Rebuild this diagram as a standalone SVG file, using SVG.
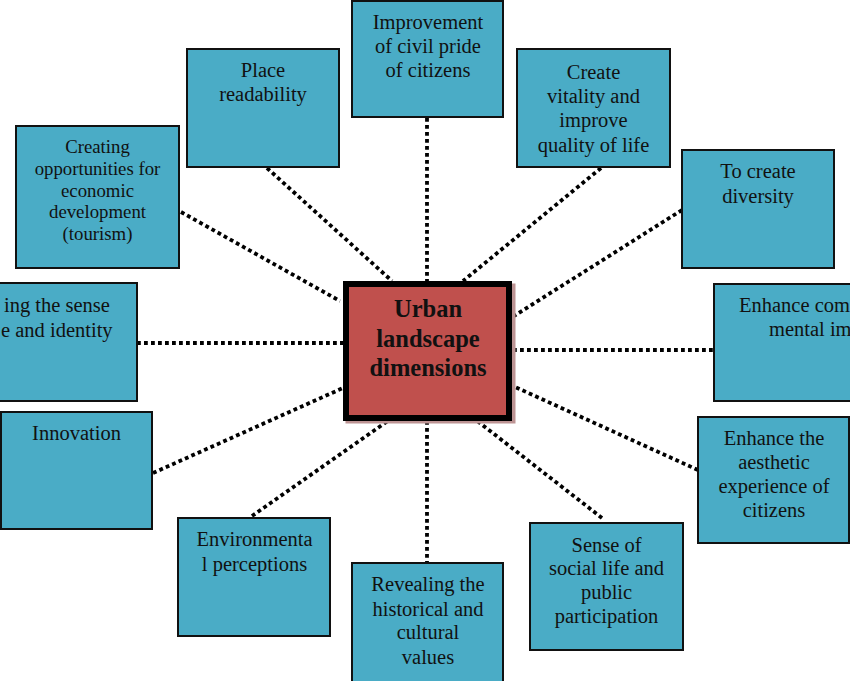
<svg xmlns="http://www.w3.org/2000/svg" width="850" height="681" viewBox="0 0 850 681">
<style>
.box{fill:#4aacc6;stroke:#111;stroke-width:2}
.t{font-family:"Liberation Serif","Times New Roman",serif;font-size:20.5px;fill:#111;text-anchor:middle}
.s{font-size:18.8px}
.c{font-family:"Liberation Serif","Times New Roman",serif;font-size:24.5px;font-weight:bold;fill:#111;text-anchor:middle}
.ln{stroke:#000;stroke-width:3.8;stroke-dasharray:3.8 3.2;fill:none}
</style>
<rect width="850" height="681" fill="#fff"/>
<g id="connectors">
<line class="ln" x1="427" y1="118" x2="427" y2="281"/>
<line class="ln" x1="267" y1="168" x2="392" y2="281"/>
<line class="ln" x1="181" y1="212" x2="340" y2="301"/>
<line class="ln" x1="601" y1="168" x2="463" y2="281"/>
<line class="ln" x1="682" y1="210" x2="514" y2="316"/>
<line class="ln" x1="137" y1="343" x2="343" y2="343"/>
<line class="ln" x1="513" y1="350" x2="714" y2="350"/>
<line class="ln" x1="153" y1="473" x2="343" y2="388"/>
<line class="ln" x1="698" y1="470" x2="513" y2="386"/>
<line class="ln" x1="252" y1="516" x2="392" y2="418"/>
<line class="ln" x1="427" y1="421" x2="427" y2="563"/>
<line class="ln" x1="602" y1="518" x2="476" y2="420"/>
</g>
<g id="center">
<rect x="345.5" y="283.5" width="170" height="140" fill="#bd9494"/>
<rect x="346" y="284" width="163" height="134" fill="#c0504d" stroke="#000" stroke-width="6"/>
<text class="c" x="428" y="317">Urban</text>
<text class="c" x="428" y="347">landscape</text>
<text class="c" x="428" y="376">dimensions</text>
</g>
<g id="n-civil-pride">
<rect class="box" x="352" y="1" width="151" height="116"/>
<text class="t" x="428" y="29">Improvement</text>
<text class="t" x="428" y="53">of civil pride</text>
<text class="t" x="428" y="77">of citizens</text>
</g>
<g id="n-place-readability">
<rect class="box" x="187" y="49" width="152" height="118"/>
<text class="t" x="263" y="77">Place</text>
<text class="t" x="263" y="101">readability</text>
</g>
<g id="n-economic">
<rect class="box" x="16" y="126" width="163" height="142"/>
<text class="t s" x="97.5" y="153">Creating</text>
<text class="t s" x="97.5" y="175">opportunities for</text>
<text class="t s" x="97.5" y="197">economic</text>
<text class="t s" x="97.5" y="218">development</text>
<text class="t s" x="97.5" y="240">(tourism)</text>
</g>
<g id="n-vitality">
<rect class="box" x="517" y="49" width="153" height="118"/>
<text class="t" x="593.5" y="79">Create</text>
<text class="t" x="593.5" y="103">vitality and</text>
<text class="t" x="593.5" y="127">improve</text>
<text class="t" x="593.5" y="152">quality of life</text>
</g>
<g id="n-diversity">
<rect class="box" x="682" y="150" width="152" height="118"/>
<text class="t" x="758" y="178">To create</text>
<text class="t" x="758" y="203">diversity</text>
</g>
<g id="n-sense-place">
<rect class="box" x="-20" y="283" width="157" height="118"/>
<text class="t" x="4" y="312" style="text-anchor:start">ing the sense</text>
<text class="t" x="1" y="337" style="text-anchor:start">e and identity</text>
</g>
<g id="n-mental-image">
<rect class="box" x="714" y="284" width="160" height="117"/>
<text class="t" x="739" y="312" style="text-anchor:start">Enhance com</text>
<text class="t" x="769" y="336" style="text-anchor:start">mental im</text>
</g>
<g id="n-innovation">
<rect class="box" x="1" y="412" width="151" height="117"/>
<text class="t" x="76.5" y="440">Innovation</text>
</g>
<g id="n-aesthetic">
<rect class="box" x="698" y="417" width="151" height="126"/>
<text class="t" x="774" y="445">Enhance the</text>
<text class="t" x="774" y="469">aesthetic</text>
<text class="t" x="774" y="493">experience of</text>
<text class="t" x="774" y="517">citizens</text>
</g>
<g id="n-environmental">
<rect class="box" x="178" y="518" width="152" height="118"/>
<text class="t" x="254.5" y="546">Environmenta</text>
<text class="t" x="254.5" y="571">l perceptions</text>
</g>
<g id="n-historical">
<rect class="box" x="352" y="563" width="151" height="125"/>
<text class="t" x="428" y="591">Revealing the</text>
<text class="t" x="428" y="616">historical and</text>
<text class="t" x="428" y="639">cultural</text>
<text class="t" x="428" y="664">values</text>
</g>
<g id="n-social">
<rect class="box" x="530" y="523" width="153" height="127"/>
<text class="t" x="606.5" y="552">Sense of</text>
<text class="t" x="606.5" y="575">social life and</text>
<text class="t" x="606.5" y="599">public</text>
<text class="t" x="606.5" y="623">participation</text>
</g>
</svg>
